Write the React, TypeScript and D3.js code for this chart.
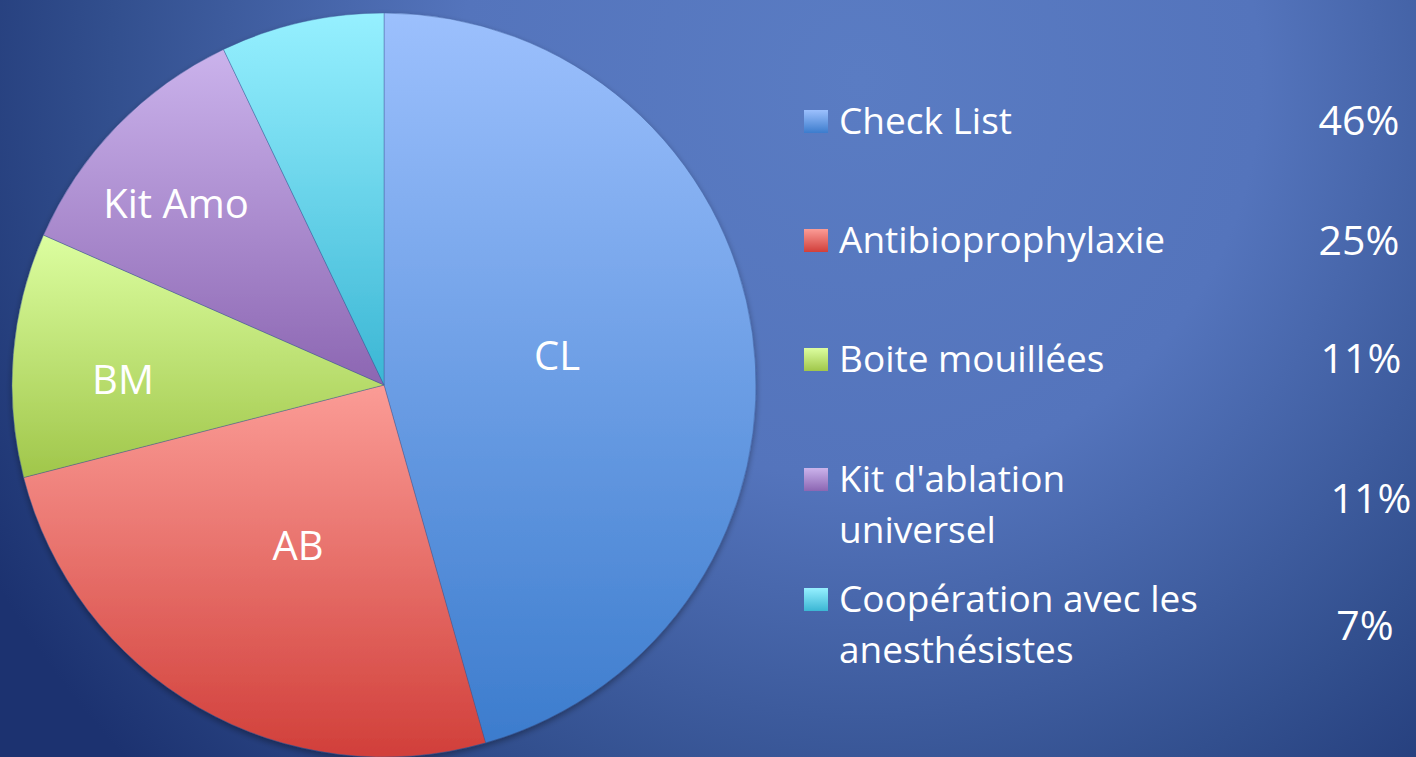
import React from "react";
import * as d3 from "d3";

const categories = ["Check List", "Antibioprophylaxie", "Boite mouillées", "Kit d'ablation universel", "Coopération avec les anesthésistes"];
const legendLines = [["Check List"], ["Antibioprophylaxie"], ["Boite mouillées"], ["Kit d'ablation", "universel"], ["Coopération avec les", "anesthésistes"]];
const shortLabels = ["CL", "AB", "BM", "Kit Amo", ""];
const values = [45.6, 25.4, 10.6, 11.3, 7.1];
const pctLabels = ["46%", "25%", "11%", "11%", "7%"];

const topColors = ["#9cc0fd", "#fb9c96", "#dcfea0", "#cbb3ec", "#96f0ff"];
const bottomColors = ["#3c7ccd", "#d13f3a", "#a0c64a", "#8c66b2", "#3bb6d4"];

const W = 1416, H = 757;
const cx = 384, cy = 385, R = 372;
const FONT = "'Open Sans', sans-serif";

const labelPos: [number, number][] = [[557, 370], [298, 560], [123, 394], [176, 218], [0, 0]];
const legendRowY = [134, 253, 372, 492, 612];
const pctPos: [number, number][] = [[1359, 135], [1359, 255], [1361, 373], [1371, 513], [1365, 640]];

export default function App() {
  const pie = d3.pie<number>().sort(null).value((d) => d);
  const arcs = pie(values);
  const arcGen = d3.arc<d3.PieArcDatum<number>>().innerRadius(0).outerRadius(R);
  return (
    <svg width={W} height={H} style={{ position: "absolute", left: 0, top: 0 }}>
      <defs>
        <radialGradient id="bg" gradientUnits="userSpaceOnUse" cx={860} cy={80} r={1000}>
          <stop offset="0" stopColor="#5a7cc3" />
          <stop offset="0.4" stopColor="#5474bc" />
          <stop offset="0.75" stopColor="#324f8e" />
          <stop offset="1" stopColor="#1c3270" />
        </radialGradient>
        {arcs.map((a, i) => (
          <linearGradient key={i} id={`g${i}`} x1="0" y1="0" x2="0" y2="1">
            <stop offset="0" stopColor={topColors[i]} />
            <stop offset="1" stopColor={bottomColors[i]} />
          </linearGradient>
        ))}
        <filter id="sh" x="-10%" y="-10%" width="120%" height="120%">
          <feDropShadow dx="0" dy="3" stdDeviation="3" floodColor="#000" floodOpacity="0.35" />
        </filter>
      </defs>
      <rect x={0} y={0} width={W} height={H} fill="url(#bg)" />
      <g transform={`translate(${cx},${cy})`} filter="url(#sh)">
        {arcs.map((a, i) => (
          <path key={i} d={arcGen(a) || ""} fill={`url(#g${i})`} stroke="rgba(60,90,150,0.5)" strokeWidth={0.8} />
        ))}
      </g>
      {shortLabels.map((l, i) =>
        l ? (
          <text key={i} x={labelPos[i][0]} y={labelPos[i][1]} textAnchor="middle" fill="#fff" fontFamily={FONT} fontSize={40}>
            {l}
          </text>
        ) : null
      )}
      {categories.map((c, i) => (
        <g key={c}>
          <rect x={804} y={legendRowY[i] - 24} width={24} height={23} fill={`url(#g${i})`} />
          {legendLines[i].map((ln, j) => (
            <text key={j} x={839} y={legendRowY[i] + j * 51} fill="#fff" fontFamily={FONT} fontSize={37}>
              {ln}
            </text>
          ))}
          <text x={pctPos[i][0]} y={pctPos[i][1]} textAnchor="middle" fill="#fff" fontFamily={FONT} fontSize={41}>
            {pctLabels[i]}
          </text>
        </g>
      ))}
    </svg>
  );
}
